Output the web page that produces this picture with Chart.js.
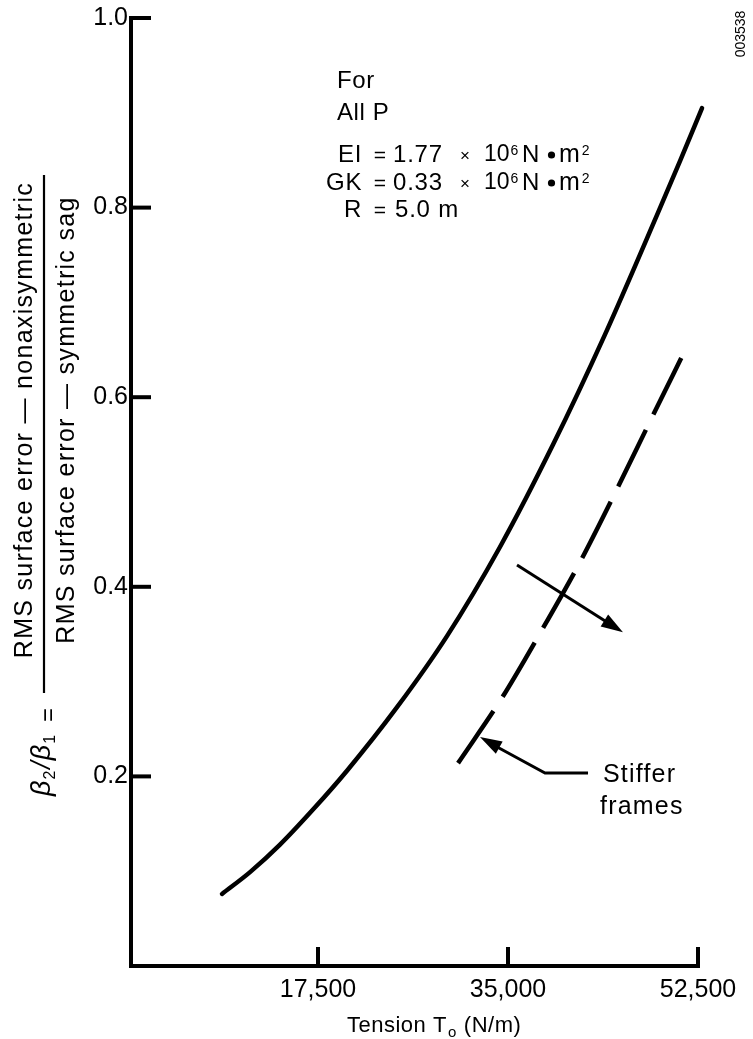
<!DOCTYPE html>
<html>
<head>
<meta charset="utf-8">
<script src="https://cdn.jsdelivr.net/npm/chart.js@4.4.1/dist/chart.umd.min.js"></script>
<style>
  html, body { margin: 0; padding: 0; background: #fff; }
  #wrap { position: relative; width: 753px; height: 1039px; }
</style>
</head>
<body>
<div id="wrap"><canvas id="c" width="753" height="1039"></canvas></div>
<script>
// Axis ticks
const tensionTicks = [17500, 35000, 52500];
const ratioTicks = [0.2, 0.4, 0.6, 0.8, 1.0];

// Baseline frames (solid curve): tension T0 (N/m) vs beta2/beta1
const baseTension = [8660, 11240, 14000, 17040, 20170, 24780, 29380, 34260, 39150, 43930, 48720, 50840, 52870];
const baseRatio   = [0.076, 0.099, 0.128, 0.165, 0.206, 0.273, 0.348, 0.442, 0.550, 0.666, 0.792, 0.849, 0.905];

// Stiffer frames (dashed curve)
const stiffTension = [30400, 34450, 37950, 41630, 44860, 48360, 51120];
const stiffRatio   = [0.214, 0.283, 0.351, 0.426, 0.499, 0.581, 0.645];

// Arrow annotations, in data units (tension, ratio)
const shiftArrow = [[35830, 0.423], [45590, 0.352]];
const stifferLeader = [[42370, 0.2036], [38410, 0.2036], [32420, 0.2416]];

const FONT = '"Liberation Sans", Arial, Helvetica, sans-serif';
const INK = '#000';

function toPoints(xs, ys) { return xs.map((x, i) => ({ x: x, y: ys[i] })); }

function spacedText(ctx, str, x, y, spacing) {
  if ('letterSpacing' in ctx) {
    ctx.letterSpacing = spacing + 'px';
    ctx.fillText(str, x, y);
    ctx.letterSpacing = '0px';
  } else {
    ctx.fillText(str, x, y);
  }
}

// Draw text stretched to a given length via letter spacing
function fittedText(ctx, str, x, y, length) {
  const w = ctx.measureText(str).width;
  const sp = (length - w) / (str.length - 1);
  spacedText(ctx, str, x, y, sp);
}

function arrowHead(ctx, x1, y1, x2, y2, len, half) {
  const a = Math.atan2(y2 - y1, x2 - x1);
  ctx.beginPath();
  ctx.moveTo(x2, y2);
  ctx.lineTo(x2 - len * Math.cos(a) + half * Math.sin(a), y2 - len * Math.sin(a) - half * Math.cos(a));
  ctx.lineTo(x2 - len * Math.cos(a) - half * Math.sin(a), y2 - len * Math.sin(a) + half * Math.cos(a));
  ctx.closePath();
  ctx.fill();
}

const decorations = {
  id: 'decorations',
  beforeDraw(chart) {
    const ctx = chart.ctx;
    ctx.save();
    ctx.fillStyle = '#fff';
    ctx.fillRect(0, 0, chart.width, chart.height);
    ctx.restore();
  },
  afterDraw(chart) {
    const ctx = chart.ctx;
    const xs = chart.scales.x, ys = chart.scales.y;
    const px = v => xs.getPixelForValue(v);
    const py = v => ys.getPixelForValue(v);
    const spineX = px(0) + 3;
    const floorY = py(0);

    ctx.save();
    ctx.strokeStyle = INK;
    ctx.fillStyle = INK;

    // Axis lines
    ctx.lineWidth = 4;
    ctx.lineCap = 'square';
    ctx.beginPath();
    ctx.moveTo(spineX, py(1.0));
    ctx.lineTo(spineX, floorY);
    ctx.lineTo(px(52500), floorY);
    ctx.stroke();

    // Inward tick marks
    ctx.lineCap = 'butt';
    ratioTicks.forEach(v => {
      ctx.beginPath();
      ctx.moveTo(spineX, py(v));
      ctx.lineTo(spineX + 20, py(v));
      ctx.stroke();
    });
    tensionTicks.forEach(v => {
      ctx.beginPath();
      ctx.moveTo(px(v), floorY);
      ctx.lineTo(px(v), floorY - 19);
      ctx.stroke();
    });

    // X title with subscript
    ctx.textBaseline = 'alphabetic';
    ctx.textAlign = 'left';
    ctx.font = '22px ' + FONT;
    let tx = 347;
    const ty = 1032;
    spacedText(ctx, 'Tension T', tx, ty, 0.5);
    tx += ctx.measureText('Tension T').width + 9 * 0.5;
    ctx.font = '15px ' + FONT;
    ctx.fillText('o', tx + 1, ty + 5);
    tx += ctx.measureText('o').width + 2;
    ctx.font = '22px ' + FONT;
    spacedText(ctx, ' (N/m)', tx, ty, 0.5);

    // Y title: beta ratio as a fraction, rotated
    ctx.save();
    ctx.translate(32, 420);
    ctx.rotate(-Math.PI / 2);
    ctx.textAlign = 'center';
    ctx.font = '25px ' + FONT;
    fittedText(ctx, 'RMS surface error \u2014 nonaxisymmetric', 0, 0, 475);
    ctx.restore();

    ctx.save();
    ctx.translate(74, 420);
    ctx.rotate(-Math.PI / 2);
    ctx.textAlign = 'center';
    ctx.font = '25px ' + FONT;
    fittedText(ctx, 'RMS surface error \u2014 symmetric sag', 0, 0, 446);
    ctx.restore();

    ctx.lineWidth = 2.2;
    ctx.beginPath();
    ctx.moveTo(44, 175);
    ctx.lineTo(44, 693);
    ctx.stroke();

    // beta2/beta1 =
    ctx.save();
    ctx.translate(50, 796);
    ctx.rotate(-Math.PI / 2);
    ctx.textAlign = 'left';
    let bx = 0;
    ctx.font = 'italic 27px ' + FONT;
    ctx.fillText('\u03B2', bx, 0);
    bx += ctx.measureText('\u03B2').width + 1;
    ctx.font = '16px ' + FONT;
    ctx.fillText('2', bx, 5);
    bx += ctx.measureText('2').width + 2;
    ctx.font = 'italic 27px ' + FONT;
    ctx.fillText('/', bx, 0);
    bx += ctx.measureText('/').width + 1;
    ctx.fillText('\u03B2', bx, 0);
    bx += ctx.measureText('\u03B2').width + 1;
    ctx.font = '16px ' + FONT;
    ctx.fillText('1', bx, 5);
    ctx.restore();

    ctx.save();
    ctx.translate(56, 715);
    ctx.rotate(-Math.PI / 2);
    ctx.textAlign = 'center';
    ctx.font = '24px ' + FONT;
    ctx.fillText('=', 0, 0);
    ctx.restore();

    // Parameter block
    ctx.font = '24px ' + FONT;
    ctx.textBaseline = 'middle';
    ctx.textAlign = 'left';
    spacedText(ctx, 'For', 337, 81, 0.6);
    spacedText(ctx, 'All P', 337, 113, 0.6);

    const rows = [
      { y: 155, name: 'EI', val: '1.77', unit: true },
      { y: 183, name: 'GK', val: '0.33', unit: true },
      { y: 210, name: 'R', val: '5.0 m', unit: false }
    ];
    rows.forEach(r => {
      ctx.font = '24px ' + FONT;
      ctx.textAlign = 'right';
      spacedText(ctx, r.name, 362, r.y, 0.6);
      ctx.font = '21px ' + FONT;
      ctx.textAlign = 'center';
      ctx.fillText('=', 380, r.y + 1);
      ctx.font = '24px ' + FONT;
      ctx.textAlign = 'left';
      spacedText(ctx, r.val, r.unit ? 393 : 395, r.y, 0.8);
      if (r.unit) {
        ctx.font = '17px ' + FONT;
        ctx.textAlign = 'center';
        ctx.fillText('\u00D7', 465, r.y + 1);
        ctx.textAlign = 'left';
        ctx.font = '23px ' + FONT;
        ctx.fillText('10', 484, r.y);
        let ex = 484 + ctx.measureText('10').width + 1;
        ctx.font = '14px ' + FONT;
        ctx.fillText('6', ex, r.y - 4);
        ctx.font = '24px ' + FONT;
        ctx.fillText('N', 522, r.y);
        ctx.beginPath();
        ctx.arc(551.5, r.y, 3.6, 0, Math.PI * 2);
        ctx.fill();
        ctx.font = '25px ' + FONT;
        ctx.fillText('m', 559, r.y);
        ex = 559 + ctx.measureText('m').width + 2;
        ctx.font = '14px ' + FONT;
        ctx.fillText('2', ex, r.y - 4);
      }
    });

    // Stiffer frames label
    ctx.font = '25px ' + FONT;
    ctx.textAlign = 'left';
    spacedText(ctx, 'Stiffer', 603, 775, 1.2);
    spacedText(ctx, 'frames', 600, 807, 1.2);

    // Arrows
    ctx.lineWidth = 3;
    ctx.lineCap = 'butt';
    const a0 = shiftArrow.map(p => [px(p[0]), py(p[1])]);
    ctx.beginPath();
    ctx.moveTo(a0[0][0], a0[0][1]);
    ctx.lineTo(a0[1][0] - 8, a0[1][1] - 5);
    ctx.stroke();
    arrowHead(ctx, a0[0][0], a0[0][1], a0[1][0], a0[1][1], 22, 7);

    const l0 = stifferLeader.map(p => [px(p[0]), py(p[1])]);
    ctx.beginPath();
    ctx.moveTo(l0[0][0], l0[0][1]);
    ctx.lineTo(l0[1][0], l0[1][1]);
    ctx.lineTo(l0[2][0] + 8, l0[2][1] + 5);
    ctx.stroke();
    arrowHead(ctx, l0[1][0], l0[1][1], l0[2][0], l0[2][1], 22, 7);

    // Figure number
    ctx.save();
    ctx.translate(745, 34);
    ctx.rotate(-Math.PI / 2);
    ctx.textAlign = 'center';
    ctx.textBaseline = 'alphabetic';
    ctx.font = '14px ' + FONT;
    ctx.fillText('003538', 0, 0);
    ctx.restore();

    ctx.restore();
  }
};

new Chart(document.getElementById('c'), {
  type: 'scatter',
  data: {
    datasets: [
      {
        label: 'Baseline frames',
        data: toPoints(baseTension, baseRatio),
        showLine: true,
        borderColor: INK,
        borderWidth: 4.5,
        borderCapStyle: 'round',
        pointRadius: 0,
        cubicInterpolationMode: 'monotone',
        clip: false
      },
      {
        label: 'Stiffer frames',
        data: toPoints(stiffTension, stiffRatio),
        showLine: true,
        borderColor: INK,
        borderWidth: 4.5,
        borderDash: [63, 17],
        borderCapStyle: 'butt',
        pointRadius: 0,
        cubicInterpolationMode: 'monotone',
        clip: false
      }
    ]
  },
  options: {
    responsive: false,
    animation: false,
    devicePixelRatio: 1,
    layout: { padding: { top: 18, right: 55, left: 0, bottom: 0 } },
    plugins: { legend: { display: false }, tooltip: { enabled: false } },
    scales: {
      x: {
        type: 'linear',
        min: 0,
        max: 52500,
        afterBuildTicks: s => { s.ticks = tensionTicks.map(v => ({ value: v })); },
        afterFit: s => { s.height = 73; },
        grid: { display: false, drawTicks: false },
        border: { display: false },
        ticks: {
          color: INK,
          font: { family: FONT, size: 25 },
          padding: 9,
          maxRotation: 0,
          callback: v => v.toLocaleString('en-US')
        }
      },
      y: {
        type: 'linear',
        min: 0,
        max: 1.0,
        afterBuildTicks: s => { s.ticks = ratioTicks.map(v => ({ value: v })); },
        afterFit: s => { s.width = 128; },
        grid: { display: false, drawTicks: false },
        border: { display: false },
        ticks: {
          color: INK,
          font: { family: FONT, size: 25 },
          padding: 0,
          callback: v => v.toFixed(1)
        }
      }
    }
  },
  plugins: [decorations]
});
</script>
</body>
</html>
